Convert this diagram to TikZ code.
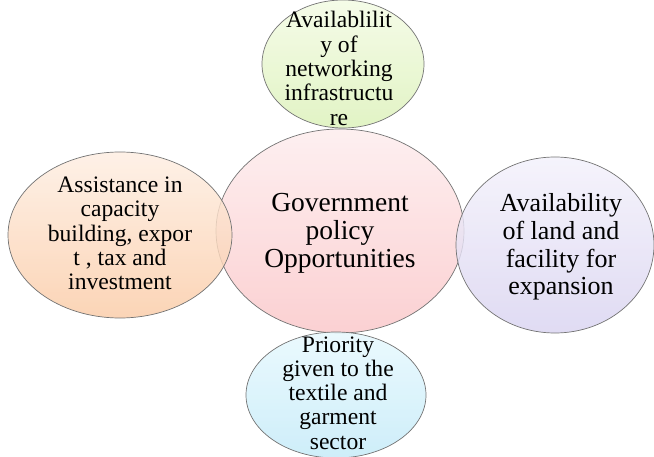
\documentclass[tikz,border=0pt]{standalone}
\usepackage{fontspec}
\setmainfont{Liberation Serif}
\usepackage{tikz}
\definecolor{pinkTop}{HTML}{FDECED}
\definecolor{pinkBot}{HTML}{FAC6C8}
\definecolor{limeTop}{HTML}{F3FBE3}
\definecolor{limeBot}{HTML}{DBF1B8}
\definecolor{peachTop}{HTML}{FEEEE2}
\definecolor{peachBot}{HTML}{FACBA6}
\definecolor{lilacTop}{HTML}{F3F1FB}
\definecolor{lilacBot}{HTML}{D9D3F0}
\definecolor{cyanTop}{HTML}{E6F8FD}
\definecolor{cyanBot}{HTML}{C3EAF8}
\newcommand\bubble[5]{%
\shade[bubble edge,top color=#4,bottom color=#5] (#1) ellipse [x radius=#2, y radius=#3];
}
\tikzset{%
  inner sep=0pt,%
  bubble edge/.style={draw=gray!90!black,line width=0.7pt,fill opacity=0.82},
  big label/.style={align=center,font=\fontsize{27.5}{28.2}\selectfont},
  mid label/.style={align=center,font=\fontsize{26}{27.7}\selectfont},
  small label/.style={align=center,font=\fontsize{23.6}{24.3}\selectfont}
}

\begin{document}
\begin{tikzpicture}[x=1pt,y=1pt]
	%% frame of the page
	\useasboundingbox (0,0) rectangle (654,456);
	
	%% the five ellipses
	\bubble{340,225}{124}{102}{pinkTop}{pinkBot} % centre
	\bubble{343,392}{81}{64}{limeTop}{limeBot} % top
	\bubble{120,221}{112}{83}{peachTop}{peachBot} % left
	\bubble{555,211}{99}{88}{lilacTop}{lilacBot} % right
	\bubble{336,61}{90}{63}{cyanTop}{cyanBot} % bottom
	
	%% texts
	\node[big label] (gov) at (340,222.5) {Government\\policy\\Opportunities};
	\node[small label] (network) at (339,387.5) {Availablilit\\y of\\networking\\infrastructu\\re};
	\node[small label] (assist) at (120,222.5) {Assistance in\\capacity\\building, expor\\t , tax and\\investment};
	\node[mid label] (land) at (561,209) {Availability\\of land and\\facility for\\expansion};
	\node[small label] (priority) at (338,63) {Priority\\given to the\\textile and\\garment\\sector};
\end{tikzpicture}
\end{document}
